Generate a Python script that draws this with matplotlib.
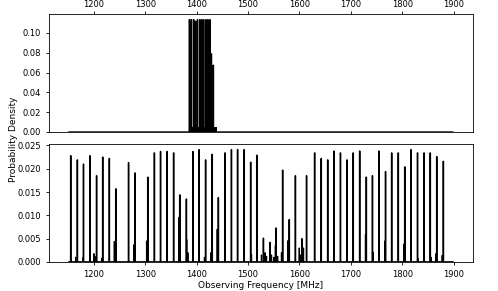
import numpy as np
import matplotlib
matplotlib.use('Agg')
import matplotlib.pyplot as plt

# histogram grid (MHz)
F_LO, F_HI, BIN = 1150.0, 1900.0, 0.75

# upper panel: narrow band spikes
top_freqs   = [1386, 1390, 1394, 1398, 1402, 1406, 1410, 1414, 1418, 1422, 1426, 1429, 1432.5]
top_heights = [0.1135, 0.1135, 0.1135, 0.112, 0.1135, 0.1135, 0.1135, 0.1135, 0.1135,
               0.1135, 0.1135, 0.079, 0.0675]
top_floor_edges = [1387, 1439]
top_floor_value = 0.0053

# lower panel: main channel spikes
bot_freqs = [1155, 1167.5, 1180, 1192.5, 1205, 1217.5, 1230, 1242.5, 1267.5, 1280,
             1305, 1317.5, 1330, 1342.5, 1355, 1367.5, 1380, 1392.5, 1405, 1417.5,
             1430, 1442.5, 1455, 1467.5, 1480, 1492.5, 1505, 1517.5, 1530, 1542.5,
             1555, 1567.5, 1580, 1592.5, 1605, 1614, 1630, 1642.5, 1655, 1667.5,
             1680, 1692.5, 1705, 1717.5, 1730, 1742.5, 1755, 1767.5, 1780, 1792.5,
             1805, 1817.5, 1830, 1842.5, 1855, 1867.5, 1880]
bot_heights = [0.0228, 0.0219, 0.0210, 0.0228, 0.0185, 0.0225, 0.0222, 0.0157, 0.0213, 0.0191,
               0.0182, 0.0234, 0.0237, 0.0237, 0.0234, 0.0144, 0.0135, 0.0237, 0.0241, 0.0219,
               0.0231, 0.0138, 0.0234, 0.0241, 0.0241, 0.0241, 0.0214, 0.0229, 0.0051, 0.0042,
               0.0073, 0.0197, 0.0091, 0.0185, 0.0050, 0.0185, 0.0234, 0.0222, 0.0219, 0.0238,
               0.0234, 0.0219, 0.0234, 0.0238, 0.0182, 0.0185, 0.0238, 0.0194, 0.0234, 0.0234,
               0.0204, 0.0241, 0.0234, 0.0234, 0.0234, 0.0226, 0.0216]

# lower panel: small side spikes near the base
side_freqs = [1165, 1179, 1200, 1202, 1216, 1240, 1278, 1303, 1366, 1381, 1383, 1415,
              1428, 1440, 1507, 1526, 1533, 1536, 1546, 1550, 1553, 1558, 1565, 1578,
              1600, 1602, 1608, 1642, 1729, 1744, 1766, 1804, 1831, 1843, 1856, 1866, 1878]
side_heights = [0.0010, 0.0010, 0.0018, 0.0012, 0.0008, 0.0044, 0.0037, 0.0045, 0.0096, 0.0048,
                0.0020, 0.0010, 0.0020, 0.0070, 0.0016, 0.0015, 0.0020, 0.0012, 0.0015, 0.0010,
                0.0035, 0.0012, 0.0020, 0.0046, 0.0030, 0.0015, 0.0030, 0.0010, 0.0059, 0.0021,
                0.0045, 0.0039, 0.0008, 0.0010, 0.0010, 0.0018, 0.0014]

edges = np.arange(F_LO, F_HI + BIN / 2, BIN)

def to_bins(freqs, heights):
    vals = np.zeros(len(edges) - 1)
    idx = np.clip(np.searchsorted(edges, freqs) - 1, 0, len(vals) - 1)
    for i, h in zip(idx, heights):
        vals[i] = max(vals[i], h)
    return vals

plt.rcParams['font.size'] = 6.5
plt.rcParams['axes.linewidth'] = 0.6

fig = plt.figure(figsize=(4.98, 2.91), dpi=100)
ax1 = fig.add_axes([0.0984, 0.5464, 0.851, 0.4055])
ax2 = fig.add_axes([0.0984, 0.0997, 0.851, 0.4055])

ax1.stairs(to_bins(top_freqs, top_heights), edges, color='k', lw=1.0)
ax1.stairs([top_floor_value], top_floor_edges, color='k', fill=True)
ax1.xaxis.tick_top()
ax1.set_xticks(np.arange(1200, 1901, 100))
ax1.set_yticks(np.arange(0, 0.101, 0.02))
ax1.tick_params(labelsize=6, width=0.6, length=2.5)
ax1.tick_params(axis='x', pad=1.2)

ax2.stairs(to_bins(bot_freqs, bot_heights), edges, color='k', lw=1.0)
ax2.stairs(to_bins(side_freqs, side_heights), edges, color='k', lw=0.8)
ax2.set_xticks(np.arange(1200, 1901, 100))
ax2.set_yticks(np.arange(0, 0.0251, 0.005))
ax2.tick_params(labelsize=6, width=0.6, length=2.5)
ax2.set_xlim(ax1.get_xlim())
ax2.set_xlabel('Observing Frequency [MHz]', labelpad=1)

fig.text(0.028, 0.52, 'Probability Density', rotation=90, va='center', ha='center')

plt.savefig('out.png', dpi=100)
plt.close()
